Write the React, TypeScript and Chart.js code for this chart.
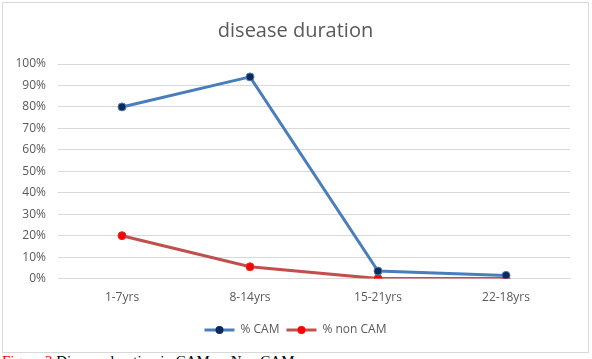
import React, { useEffect, useRef } from "react";
import { Chart, registerables } from "chart.js";

Chart.register(...registerables);

const categories = ["1-7yrs", "8-14yrs", "15-21yrs", "22-18yrs"];
const camValues = [80, 94, 3.5, 1.5];
const nonCamValues = [20, 5.5, 0, 0];
const yTickMax = 100;
const yTickStep = 10;

export default function App() {
  const ref = useRef<HTMLCanvasElement | null>(null);

  useEffect(() => {
    document.body.style.margin = "0";
    const ctx = ref.current;
    if (!ctx) return;
    const font = "'Open Sans', 'Noto Sans', sans-serif";
    const chart = new Chart(ctx, {
      type: "line",
      data: {
        labels: categories,
        datasets: [
          {
            label: "% CAM",
            data: camValues,
            borderColor: "#4A7EBB",
            backgroundColor: "#002060",
            pointBackgroundColor: "#0B2A5C",
            pointBorderColor: "#4A7EBB",
            pointBorderWidth: 1,
            pointRadius: 4,
            borderWidth: 3,
            tension: 0,
          },
          {
            label: "% non CAM",
            data: nonCamValues,
            borderColor: "#C0504D",
            backgroundColor: "#FF0000",
            pointBackgroundColor: "#FF0000",
            pointBorderColor: "#E03030",
            pointBorderWidth: 1,
            pointRadius: 4,
            borderWidth: 3,
            tension: 0,
          },
        ],
      },
      options: {
        animation: false,
        responsive: false,
        maintainAspectRatio: false,
        layout: { padding: { left: 9, right: 9, top: 10, bottom: 6 } },
        plugins: {
          title: {
            display: true,
            text: "disease duration",
            color: "#595959",
            font: { family: font, size: 20, weight: "normal" },
            padding: { top: 6, bottom: 21 },
          },
          legend: {
            position: "bottom",
            labels: {
              color: "#595959",
              font: { family: font, size: 12 },
              usePointStyle: false,
              boxWidth: 30,
              boxHeight: 3,
              padding: 7,
              generateLabels: (c: any) =>
                c.data.datasets.map((ds: any, i: number) => ({
                  text: ds.label,
                  fillStyle: ds.borderColor,
                  strokeStyle: ds.borderColor,
                  lineWidth: 0,
                  fontColor: "#595959",
                  datasetIndex: i,
                  hidden: false,
                })),
            },
          },
          tooltip: { enabled: false },
        },
        scales: {
          x: {
            offset: true,
            grid: { display: false, drawTicks: false, offset: true },
            border: { display: true, color: "#d9d9d9" },
            ticks: {
              color: "#595959",
              font: { family: font, size: 12 },
              padding: 12,
            },
          },
          y: {
            min: 0,
            max: yTickMax,
            grid: { color: "#d9d9d9", drawTicks: false },
            border: { display: false },
            ticks: {
              stepSize: yTickStep,
              color: "#595959",
              font: { family: font, size: 12 },
              padding: 12,
              callback: (v: any) => v + "%",
            },
            afterFit: (s: any) => {
              s.width = 46;
            },
          },
          yRightSpacer: {
            type: "linear",
            position: "right",
            display: true,
            grid: { display: false, drawTicks: false },
            border: { display: false },
            ticks: { display: false },
            afterFit: (s: any) => {
              s.width = 9;
            },
          },
        },
      },
      plugins: [
        {
          id: "legendMarkers",
          afterDraw(c: any) {
            const legend = c.legend;
            if (!legend || !legend.legendHitBoxes) return;
            const g = c.ctx;
            legend.legendHitBoxes.forEach((box: any, i: number) => {
              const ds = c.data.datasets[i];
              const cx = box.left + 15;
              const cy = box.top + box.height / 2;
              g.save();
              g.beginPath();
              g.arc(cx, cy, 4, 0, Math.PI * 2);
              g.fillStyle = ds.pointBackgroundColor;
              g.fill();
              g.restore();
            });
          },
        },
      ],
    });
    return () => chart.destroy();
  }, []);

  return (
    <div style={{ position: "relative", width: 592, height: 359, overflow: "hidden", background: "#fff" }}>
      <div
        style={{
          position: "absolute",
          left: 2,
          top: 2,
          width: 585,
          height: 349,
          border: "1px solid #d9d9d9",
          background: "#fff",
        }}
      >
        <canvas ref={ref} width={585} height={349} style={{ display: "block" }} />
      </div>
      <div
        style={{
          position: "absolute",
          left: 2,
          top: 353,
          fontFamily: "'Liberation Serif', 'Times New Roman', serif",
          fontSize: 15,
          lineHeight: "17px",
          whiteSpace: "nowrap",
          color: "#000",
        }}
      >
        <span style={{ color: "#FF0000" }}>Figure 3</span> Disease duration in CAM vs Non CAM
      </div>
    </div>
  );
}
